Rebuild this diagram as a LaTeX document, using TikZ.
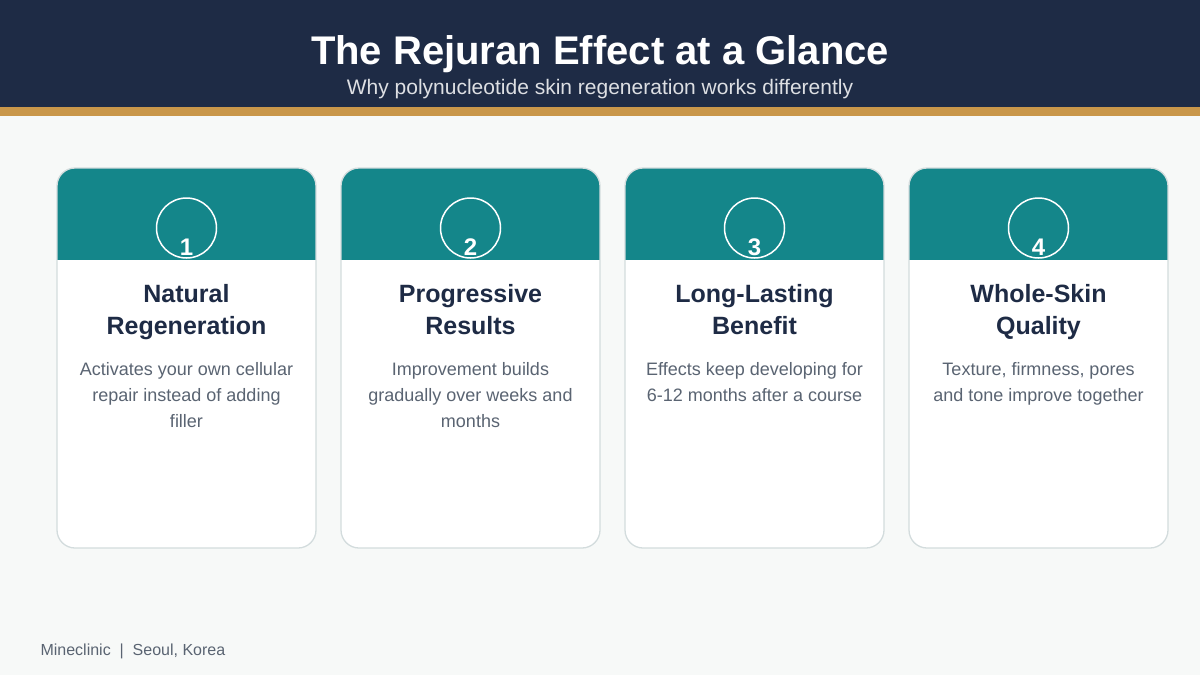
\documentclass[tikz,border=0pt]{standalone}
\usepackage{fontspec}
\setmainfont{Liberation Sans}
\definecolor{navy}{HTML}{1E2B45}
\definecolor{gold}{HTML}{C9974A}
\definecolor{bg}{HTML}{F7F9F8}
\definecolor{teal}{HTML}{14868A}
\definecolor{bord}{HTML}{D3DCDD}
\definecolor{body}{HTML}{5A6472}
\definecolor{foot}{HTML}{5A6472}
\begin{document}
\begin{tikzpicture}[x=1pt,y=-1pt,
  ttl/.style={font=\bfseries\fontsize{25}{32}\selectfont,text=navy,align=center,anchor=north},
  bdy/.style={font=\fontsize{18}{26}\selectfont,text=body,align=center,anchor=north},
  num/.style={font=\bfseries\fontsize{24}{24}\selectfont,text=white}]
\useasboundingbox (0,0) rectangle (1200,675);
\fill[bg] (0,0) rectangle (1200,675);
\fill[navy] (0,0) rectangle (1200,107);
\fill[gold] (0,107) rectangle (1200,116);
\node[font=\bfseries\fontsize{40}{40}\selectfont,text=white] (title) at (600,54) {The Rejuran Effect at a Glance};
\node[font=\fontsize{21}{22}\selectfont,text=white!85!navy] (sub) at (600,89) {Why polynucleotide skin regeneration works differently};
\foreach \i/\x/\n/\t/\b in {
 0/57/1/{Natural\\Regeneration}/{Activates your own cellular\\repair instead of adding\\filler},
 1/341/2/{Progressive\\Results}/{Improvement builds\\gradually over weeks and\\months},
 2/625/3/{Long-Lasting\\Benefit}/{Effects keep developing for\\6-12 months after a course},
 3/909/4/{Whole-Skin\\Quality}/{Texture, firmness, pores\\and tone improve together}}{
  \begin{scope}
  \clip[rounded corners=18pt] (\x,168) rectangle ++(259,380);
  \fill[white] (\x,168) rectangle ++(259,380);
  \fill[teal] (\x,168) rectangle ++(259,92);
  \end{scope}
  \draw[bord,line width=1.3pt,rounded corners=18pt] (\x,168) rectangle ++(259,380);
  \draw[white,line width=1.5pt] (\x+129.5,228) circle (30);
  \node[num] (n\i) at (\x+129.5,247) {\n};
  \node[ttl] (t\i) at (\x+129.5,281) {\t};
  \node[bdy] (b\i) at (\x+129.5,359) {\b};
}
\node[font=\fontsize{16}{18}\selectfont,text=foot,anchor=west] (foot) at (37,651) {Mineclinic \ \textbar\ \ Seoul, Korea};
\end{tikzpicture}
\end{document}
